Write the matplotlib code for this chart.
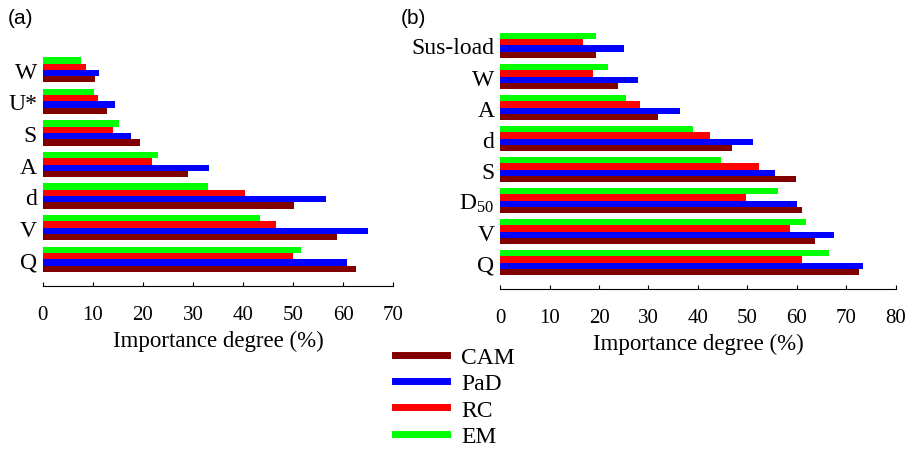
import numpy as np
import matplotlib
matplotlib.use("Agg")
from matplotlib import pyplot as plt
from matplotlib.lines import Line2D

plt.rcParams['font.family'] = ['Liberation Serif', 'DejaVu Serif']
plt.rcParams['mathtext.fontset'] = 'custom'
plt.rcParams['mathtext.rm'] = 'Liberation Serif'
plt.rcParams['mathtext.it'] = 'Liberation Serif'

methods = ["CAM", "PaD", "RC", "EM"]
colors = ["#800000", "#0000ff", "#ff0000", "#00ff00"]

# panel (a), bottom to top
cats_a = ["Q", "V", "d", "A", "S", "U*", "W"]
cam_a = [62.6, 58.8, 50.2, 29.1, 19.5, 12.9, 10.5]
pad_a = [60.8, 64.9, 56.6, 33.3, 17.7, 14.4, 11.3]
rc_a = [49.9, 46.5, 40.5, 21.8, 14.0, 11.0, 8.7]
em_a = [51.5, 43.4, 33.0, 23.1, 15.3, 10.2, 7.7]

# panel (b), bottom to top
cats_b = ["Q", "V", "D$_{50}$", "S", "d", "A", "W", "Sus-load"]
cam_b = [72.5, 63.7, 61.1, 59.8, 46.9, 31.9, 23.8, 19.3]
pad_b = [73.3, 67.4, 60.0, 55.6, 51.1, 36.4, 27.9, 25.0]
rc_b = [61.1, 58.6, 49.8, 52.3, 42.5, 28.3, 18.8, 16.8]
em_b = [66.5, 61.8, 56.2, 44.6, 39.0, 25.5, 21.8, 19.3]


def panel(ax, cats, series, xmax):
    y = np.arange(len(cats))
    h = 0.2
    for k, vals in enumerate(series):
        ax.barh(y - 0.3 + k * h, vals, height=h, color=colors[k], linewidth=0)
    ax.set_ylim(-0.85, len(cats) - 1 + 0.4)
    ax.set_xlim(0, xmax)
    ax.set_xticks(np.arange(0, xmax + 1, 10))
    ax.set_yticks(y)
    ax.set_yticklabels(cats, fontsize=17)
    ax.tick_params(axis='y', length=0, pad=4)
    ax.tick_params(axis='x', direction='in', length=3, labelsize=15, pad=14, width=0.8)
    for s in ["top", "right", "left"]:
        ax.spines[s].set_visible(False)
    ax.spines["bottom"].set_linewidth(0.8)
    ax.set_xlabel("Importance degree (%)", fontsize=16.5, labelpad=4)


fig = plt.figure(figsize=(9.08, 4.6), dpi=100)
ax1 = fig.add_axes([0.047, 0.376, 0.386, 0.4975])
ax2 = fig.add_axes([0.5507, 0.3696, 0.436, 0.5563])

panel(ax1, cats_a, [cam_a, pad_a, rc_a, em_a], 70)
panel(ax2, cats_b, [cam_b, pad_b, rc_b, em_b], 80)

fig.text(0.008, 0.96, "(a)", fontsize=15, family="Liberation Sans", va="center")
fig.text(0.441, 0.96, "(b)", fontsize=15, family="Liberation Sans", va="center")

handles = [Line2D([0], [0], color=c, lw=5) for c in colors]
fig.legend(handles, methods, loc="upper left", bbox_to_anchor=(0.425, 0.265),
           frameon=False, fontsize=17, handlelength=2.2, labelspacing=0.2,
           handletextpad=0.6, borderaxespad=0)

fig.savefig("out.png", dpi=100)
